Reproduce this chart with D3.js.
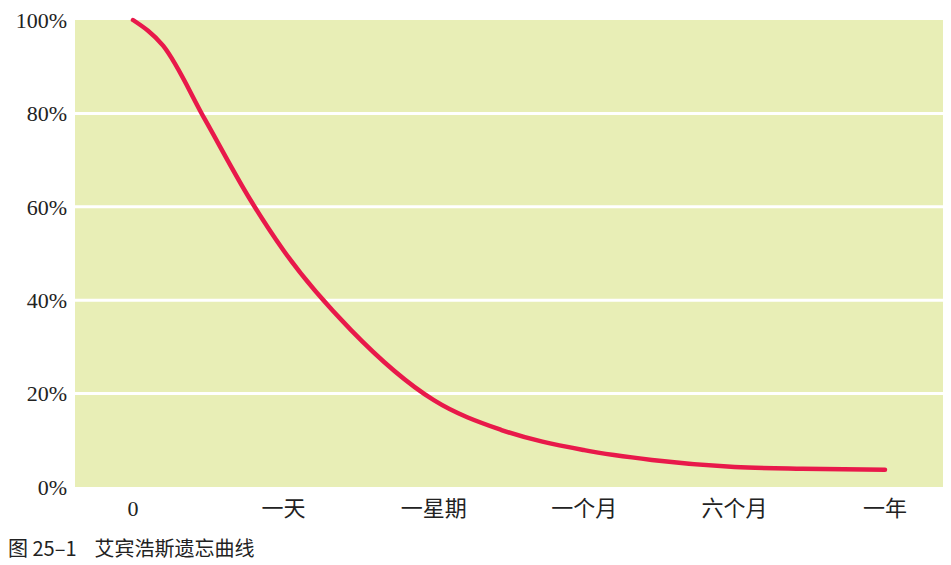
<!DOCTYPE html>
<html>
<head>
<meta charset="utf-8">
<script src="https://cdn.jsdelivr.net/npm/d3@7"></script>
<style>
  body { margin: 0; background: #fff; }
</style>
</head>
<body>
<div id="vis"></div>
<script>
// data
var categories = ["0", "一天", "一星期", "一个月", "六个月", "一年"];
var curvePos = [0, 0.2, 0.48, 0.78, 1, 1.45, 2, 2.45, 3, 3.45, 4, 4.45, 5];
var curveVal = [100, 94.5, 78.6, 61.5, 50.7, 33.6, 18.6, 12.2, 7.9, 5.8, 4.3, 3.9, 3.7];
var yTicks = [0, 20, 40, 60, 80, 100];
var caption = "图 25–1    艾宾浩斯遗忘曲线";

var W = 951, H = 565;
var plot = {left: 75, right: 943, top: 20, bottom: 487};

var svg = d3.select("#vis").append("svg")
    .attr("width", W)
    .attr("height", H);

var x = d3.scaleLinear().domain([0, 5]).range([133, 885]);
var y = d3.scaleLinear().domain([0, 100]).range([plot.bottom, plot.top]);

svg.append("rect")
    .attr("x", plot.left)
    .attr("y", plot.top)
    .attr("width", plot.right - plot.left)
    .attr("height", plot.bottom - plot.top)
    .attr("fill", "#e8eeb6");

// gridlines
svg.selectAll(".grid")
    .data(yTicks.filter(function(d){ return d > 0 && d < 100; }))
    .enter().append("line")
    .attr("x1", plot.left)
    .attr("x2", plot.right)
    .attr("y1", function(d){ return y(d); })
    .attr("y2", function(d){ return y(d); })
    .attr("stroke", "#fff")
    .attr("stroke-width", 3);

// y labels
svg.selectAll(".ylab")
    .data(yTicks)
    .enter().append("text")
    .attr("x", 67)
    .attr("y", function(d){ return y(d); })
    .attr("dy", "0.35em")
    .attr("text-anchor", "end")
    .attr("font-family", "Liberation Serif, serif")
    .attr("font-size", 22)
    .attr("fill", "#222")
    .text(function(d){ return d + "%"; });

// x labels
svg.selectAll(".xlab")
    .data(categories)
    .enter().append("text")
    .attr("x", function(d, i){ return x(i); })
    .attr("y", 516)
    .attr("text-anchor", "middle")
    .attr("font-family", "Liberation Serif, Noto Sans CJK SC, serif")
    .attr("font-size", 22)
    .attr("fill", "#222")
    .text(function(d){ return d; });

var line = d3.line()
    .curve(d3.curveMonotoneX)
    .x(function(d){ return x(d[0]); })
    .y(function(d){ return y(d[1]); });

svg.append("path")
    .datum(d3.zip(curvePos, curveVal))
    .attr("d", line)
    .attr("fill", "none")
    .attr("stroke", "#e8194a")
    .attr("stroke-width", 4.5)
    .attr("stroke-linecap", "round");

svg.append("text")
    .attr("x", 8)
    .attr("y", 556)
    .attr("font-family", "Noto Sans CJK SC, sans-serif")
    .attr("font-size", 20)
    .attr("fill", "#222")
    .attr("xml:space", "preserve")
    .style("white-space", "pre")
    .text(caption);
</script>
</body>
</html>
